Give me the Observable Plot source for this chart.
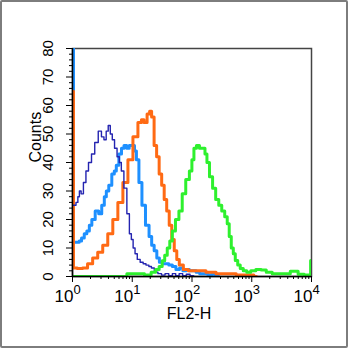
<!DOCTYPE html>
<html>
<head>
<meta charset="utf-8">
<script src="https://cdn.jsdelivr.net/npm/d3@7"></script>
<script src="https://cdn.jsdelivr.net/npm/@observablehq/plot@0.6"></script>
<style>
  html, body { margin: 0; padding: 0; background: #fff; }
  #box { position: absolute; left: 0; top: 0; width: 344px; height: 344px; border: 2px solid #7d7d7d; border-radius: 2px; background: #fff; }
  #box svg { display: block; }
</style>
</head>
<body>
<div id="box"></div>
<script>
// FL2-H channel positions and counts
const navyX = [1.0, 1.1, 1.19, 1.27, 1.34, 1.45, 1.6, 1.76, 1.95, 2.22, 2.5, 2.91, 3.2, 3.53, 3.8, 4.13, 4.45, 4.82, 5.3, 5.85, 6.3, 6.84, 7.68, 8.6, 9.33, 10.0, 10.7, 11.6, 12.7, 14.5, 16, 18, 20, 21.9, 25, 29, 33, 38, 44, 50, 57, 65, 75, 86, 100, 112];
const navyY = [25, 25, 26, 28, 30, 29, 33, 37, 40, 43, 47, 51, 49, 48, 51, 53, 50, 48, 45, 42, 40, 37, 31, 22, 15, 13, 10, 8, 6, 5, 4.5, 4, 3.5, 3, 1.5, 1, 0.5, 1, 0.3, 1, 0.3, 1, 0.3, 0.8, 0.3, 0];

const blueX = [1.0, 1.08, 1.15, 1.25, 1.34, 1.5, 1.65, 1.83, 2.0, 2.22, 2.59, 2.91, 3.27, 3.55, 3.82, 4.29, 4.82, 5.2, 5.63, 6.33, 6.9, 7.68, 8.5, 9.33, 10.5, 11.3, 12.2, 13.7, 15.4, 18, 20.3, 22, 24.6, 27, 30, 33.6, 38, 44, 50, 58, 66, 75, 85, 96, 110, 125, 145, 171, 200, 230, 253, 280];
const blueY = [95, 12, 12, 12, 12.5, 13.5, 15, 16, 18, 20, 23, 22, 25, 28, 30, 32, 36, 37, 39, 43, 45, 46, 45, 46, 46, 44, 41, 33, 25, 18, 14, 11, 9, 6.5, 5, 4.5, 4.5, 4, 3.5, 2.5, 3, 2, 2.5, 2, 2, 1.5, 1, 1, 0.5, 1, 0.5, 0];

const orangeX = [1.0, 1.08, 1.34, 1.62, 1.97, 2.4, 2.91, 3.53, 4.29, 5.21, 6.33, 7.68, 9.33, 11.3, 13.7, 14.8, 16.7, 18.8, 20.3, 21.9, 24.6, 26.6, 29.9, 32.3, 36.3, 39.2, 44.1, 47.6, 53.5, 57.8, 65, 79, 95.8, 141, 208, 307, 453, 667, 984, 1195];
const orangeY = [65, 3, 2.8, 3, 4.5, 6.5, 8.5, 11, 15, 20, 26, 33, 41, 49, 54, 55, 54, 57, 58, 56, 46, 42, 36, 32, 27, 23, 18, 13, 9, 6, 4, 2.5, 2, 2, 1.5, 1, 1, 0.5, 0.5, 0];

const greenX = [1.0, 7.68, 8.6, 13.7, 18.8, 22.8, 26.6, 29.9, 33.6, 36.3, 40.9, 44.1, 49.8, 56.1, 65, 72.4, 85.3, 95.8, 103.6, 112, 126, 141, 159, 171, 185, 208, 235, 264, 298, 332, 375, 403, 437, 472, 511, 550, 617, 667, 780, 874, 1060, 1290, 1620, 1890, 2560, 3750, 5200, 6860, 8350, 9350, 10000];
const greenY = [0, 0, 1, 1, 0.5, 1.5, 2.5, 3.5, 5.5, 7.5, 10, 12.5, 16, 20, 23, 29, 34, 37, 41, 45, 46, 45, 45, 43, 40, 35, 31, 27, 25, 23, 21, 18.5, 14, 10, 8, 5.6, 4, 2.8, 2, 1.5, 2, 2.5, 2.3, 1.5, 1, 1, 1.8, 0.8, 0.5, 0.5, 5.6];

// axes
const yMajor = [0, 10, 20, 30, 40, 50, 60, 70, 80];
const yTickLabels = ["0", "10", "20", "30", "40", "50", "60", "70", "80"];
const yMinor = [2, 4, 6, 8, 12, 14, 16, 18, 22, 24, 26, 28, 32, 34, 36, 38, 42, 44, 46, 48, 52, 54, 56, 58, 62, 64, 66, 68, 72, 74, 76, 78];
const xMajor = [1, 10, 100, 1000, 10000];
const xTickBase = ["10", "10", "10", "10", "10"];
const xTickExp = ["0", "1", "2", "3", "4"];
const xMinor = [2,3,4,5,6,7,8,9,20,30,40,50,60,70,80,90,200,300,400,500,600,700,800,900,2000,3000,4000,5000,6000,7000,8000,9000];
const xLabel = "FL2-H";
const yLabel = "Counts";

const pts = (xs, ys) => xs.map((x, i) => ({x, y: ys[i]}));
const navy = pts(navyX, navyY);
const blue = pts(blueX, blueY);
const orange = pts(orangeX, orangeY);
const green = pts(greenX, greenY);

const font = "'Liberation Sans', Arial, Helvetica, sans-serif";

const chart = Plot.plot({
  width: 344,
  height: 344,
  marginLeft: 70,
  marginRight: 35,
  marginTop: 46,
  marginBottom: 70,
  style: {fontFamily: font, background: "white", overflow: "visible"},
  x: {type: "log", domain: [1, 10000], axis: null},
  y: {domain: [0, 80], axis: null},
  marks: [
    Plot.frame({stroke: "#444", strokeWidth: 1.5}),
    Plot.lineY(blue, {x: "x", y: "y", curve: "step", stroke: "#1e90ff", strokeWidth: 3, clip: true}),
    Plot.lineY(orange, {x: "x", y: "y", curve: "step", stroke: "#ff6a14", strokeWidth: 3, clip: true}),
    Plot.lineY(navy, {x: "x", y: "y", curve: "step", stroke: "#2424b0", strokeWidth: 1.4, clip: true}),
    Plot.lineY(green, {x: "x", y: "y", curve: "step", stroke: "#2ef02e", strokeWidth: 3, clip: true}),
    Plot.ruleX([1], {stroke: "black", strokeWidth: 1.5}),
    Plot.ruleY([0], {stroke: "black", strokeWidth: 1.5}),
    Plot.axisY(yMinor, {tickSize: 3, tickFormat: () => "", label: null, stroke: "black"}),
    Plot.axisY(yMajor, {tickSize: 6, tickFormat: () => "", label: null, stroke: "black"}),
    Plot.axisX(xMinor, {tickSize: 3, tickFormat: () => "", label: null, stroke: "black"}),
    Plot.axisX(xMajor, {tickSize: 6, tickFormat: () => "", label: null, stroke: "black"}),
    Plot.text(yMajor, {y: d => d, text: (d, i) => yTickLabels[i], frameAnchor: "left", dx: -24, rotate: -90, fontSize: 15, fill: "black", textAnchor: "middle"}),
    Plot.text(xMajor, {x: d => d, text: (d, i) => xTickBase[i], frameAnchor: "bottom", dy: 25, dx: 1, textAnchor: "end", fontSize: 17, fill: "black"}),
    Plot.text(xMajor, {x: d => d, text: (d, i) => xTickExp[i], frameAnchor: "bottom", dy: 17, dx: 1, textAnchor: "start", fontSize: 13, fill: "black"}),
    Plot.text([xLabel], {text: d => d, frameAnchor: "bottom", dy: 42, dx: -3, fontSize: 16, fill: "black"}),
    Plot.text([yLabel], {text: d => d, frameAnchor: "left", dx: -37, rotate: -90, fontSize: 16, fill: "black"})
  ]
});
document.getElementById("box").appendChild(chart);
</script>
</body>
</html>
